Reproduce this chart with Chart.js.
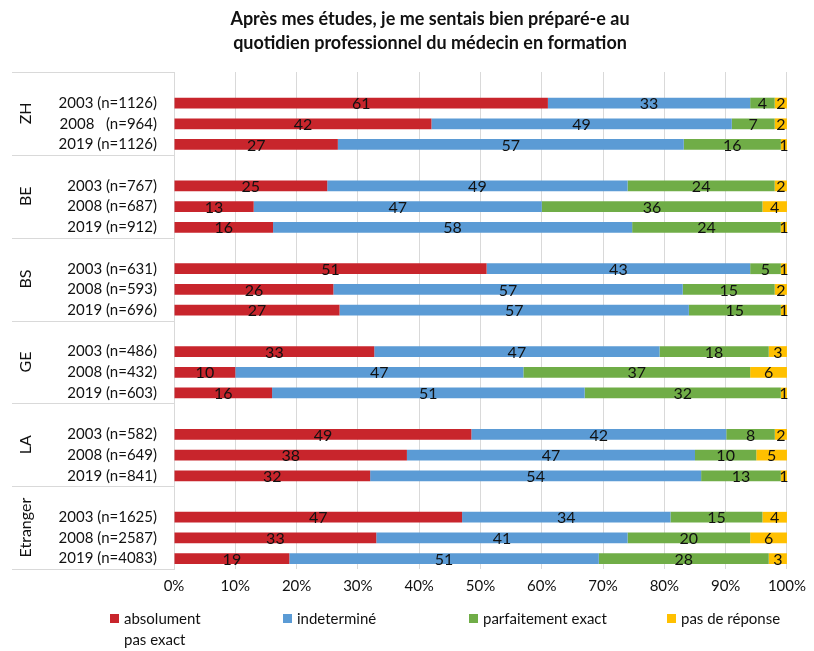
<!DOCTYPE html>
<html><head><meta charset="utf-8">
<script src="https://cdn.jsdelivr.net/npm/chart.js@4/dist/chart.umd.min.js"></script>
<style>html,body{margin:0;padding:0;background:#fff}#wrap{width:814px;height:651px;position:relative}</style>
</head><body><div id="wrap"><canvas id="c" width="814" height="651"></canvas></div>
<script>
const titleLines = ['Après mes études, je me sentais bien préparé-e au', 'quotidien professionnel du médecin en formation'];
const groups = ['ZH', 'BE', 'BS', 'GE', 'LA', 'Etranger'];
const rowLabels = [
  ['2003 (n=1126)', '2008   (n=964)', '2019 (n=1126)'],
  ['2003 (n=767)', '2008 (n=687)', '2019 (n=912)'],
  ['2003 (n=631)', '2008 (n=593)', '2019 (n=696)'],
  ['2003 (n=486)', '2008 (n=432)', '2019 (n=603)'],
  ['2003 (n=582)', '2008 (n=649)', '2019 (n=841)'],
  ['2003 (n=1625)', '2008 (n=2587)', '2019 (n=4083)']
];
const seriesNames = ['absolument\npas exact', 'indeterminé', 'parfaitement exact', 'pas de réponse'];
const seriesColors = ['#C8252C', '#5B9BD5', '#70AD47', '#FFC000'];
const absolument   = [61, 42, 27, 25, 13, 16, 51, 26, 27, 33, 10, 16, 49, 38, 32, 47, 33, 19];
const indetermine  = [33, 49, 57, 49, 47, 58, 43, 57, 57, 47, 47, 51, 42, 47, 54, 34, 41, 51];
const parfaitement = [4, 7, 16, 24, 36, 24, 5, 15, 15, 18, 37, 32, 8, 10, 13, 15, 20, 28];
const pasReponse   = [2, 2, 1, 2, 4, 1, 1, 2, 1, 3, 6, 1, 2, 5, 1, 4, 6, 3];
const xTicks = [0, 10, 20, 30, 40, 50, 60, 70, 80, 90, 100];

const series = [absolument, indetermine, parfaitement, pasReponse];
const FONT = 'Lato';

// build slots: one empty slot at top of each group, then 3 rows
const slotLabels = [];
const slotIndex = []; // slot -> row index or -1
groups.forEach((g, gi) => {
  slotLabels.push(''); slotIndex.push(-1);
  rowLabels[gi].forEach((l, ri) => { slotLabels.push(l); slotIndex.push(gi * 3 + ri); });
});
const totals = absolument.map((_, i) => series.reduce((s, arr) => s + arr[i], 0));

const datasets = series.map((arr, si) => ({
  label: seriesNames[si],
  backgroundColor: seriesColors[si],
  borderWidth: 0,
  data: slotIndex.map(r => r < 0 ? null : arr[r] / totals[r] * 100),
  rawValues: slotIndex.map(r => r < 0 ? null : arr[r]),
  categoryPercentage: 1,
  barPercentage: 0.52
}));

const decoPlugin = {
  id: 'deco',
  beforeDraw(chart) {
    const ctx = chart.ctx, ca = chart.chartArea;
    ctx.save();
    ctx.strokeStyle = '#d9d9d9';
    ctx.lineWidth = 1;
    const slotH = (ca.bottom - ca.top) / slotLabels.length;
    for (let k = 0; k <= groups.length; k++) {
      const yy = Math.round(ca.top + k * 4 * slotH) + 0.5;
      ctx.beginPath(); ctx.moveTo(12, yy); ctx.lineTo(ca.left, yy); ctx.stroke();
    }
    ctx.restore();
  },
  afterDatasetsDraw(chart) {
    const ctx = chart.ctx;
    ctx.save();
    ctx.font = '16px ' + FONT;
    ctx.fillStyle = '#111';
    ctx.textAlign = 'center';
    ctx.textBaseline = 'middle';
    chart.data.datasets.forEach((ds, di) => {
      const meta = chart.getDatasetMeta(di);
      meta.data.forEach((el, i) => {
        const v = ds.rawValues[i];
        if (v == null) return;
        const cx = (el.x + el.base) / 2;
        ctx.fillText(String(v), cx, el.y + 1);
      });
    });
    ctx.restore();
  },
  afterDraw(chart) {
    const ctx = chart.ctx, ca = chart.chartArea;
    ctx.save();
    // title
    ctx.font = 'bold 18px ' + FONT;
    ctx.fillStyle = '#111';
    ctx.textAlign = 'center';
    ctx.textBaseline = 'middle';
    ctx.fillText(titleLines[0], 430, 19);
    ctx.fillText(titleLines[1], 430, 43);
    // group labels
    const slotH = (ca.bottom - ca.top) / slotLabels.length;
    ctx.font = '16px ' + FONT;
    groups.forEach((g, gi) => {
      const cy = ca.top + (gi * 4 + 2) * slotH;
      ctx.save();
      ctx.translate(26, cy);
      ctx.rotate(-Math.PI / 2);
      ctx.fillText(g, 0, 0);
      ctx.restore();
    });
    // legend
    const lx = [110, 283, 469, 667];
    ctx.textAlign = 'left';
    ctx.font = '15px ' + FONT;
    chart.data.datasets.forEach((ds, di) => {
      ctx.fillStyle = ds.backgroundColor;
      ctx.fillRect(lx[di], 614, 9, 9);
      ctx.fillStyle = '#111';
      ds.label.split('\n').forEach((line, li) => {
        ctx.fillText(line, lx[di] + 14, 619 + li * 21);
      });
    });
    ctx.restore();
  }
};

new Chart(document.getElementById('c'), {
  type: 'bar',
  data: { labels: slotLabels, datasets },
  options: {
    indexAxis: 'y',
    responsive: false,
    devicePixelRatio: 1,
    animation: false,
    layout: { padding: { left: 0, right: 22, top: 72, bottom: 0 } },
    plugins: { legend: { display: false }, title: { display: false }, tooltip: { enabled: false } },
    scales: {
      x: {
        stacked: true, min: 0, max: 100,
        afterBuildTicks(s) { s.ticks = xTicks.map(v => ({ value: v })); },
        ticks: { callback: v => v + '%', color: '#111', font: { family: FONT, size: 15 }, padding: 8, maxRotation: 0 },
        grid: { color: '#d9d9d9', drawTicks: false },
        border: { display: false },
        afterFit(s) { s.height = 82; }
      },
      y: {
        stacked: true,
        ticks: { autoSkip: false, color: '#111', font: { family: FONT, size: 15 }, padding: 17 },
        grid: { display: false, drawTicks: false },
        border: { display: true, color: '#d9d9d9' },
        afterFit(s) { s.width = 174; }
      }
    }
  },
  plugins: [decoPlugin]
});
</script></body></html>
